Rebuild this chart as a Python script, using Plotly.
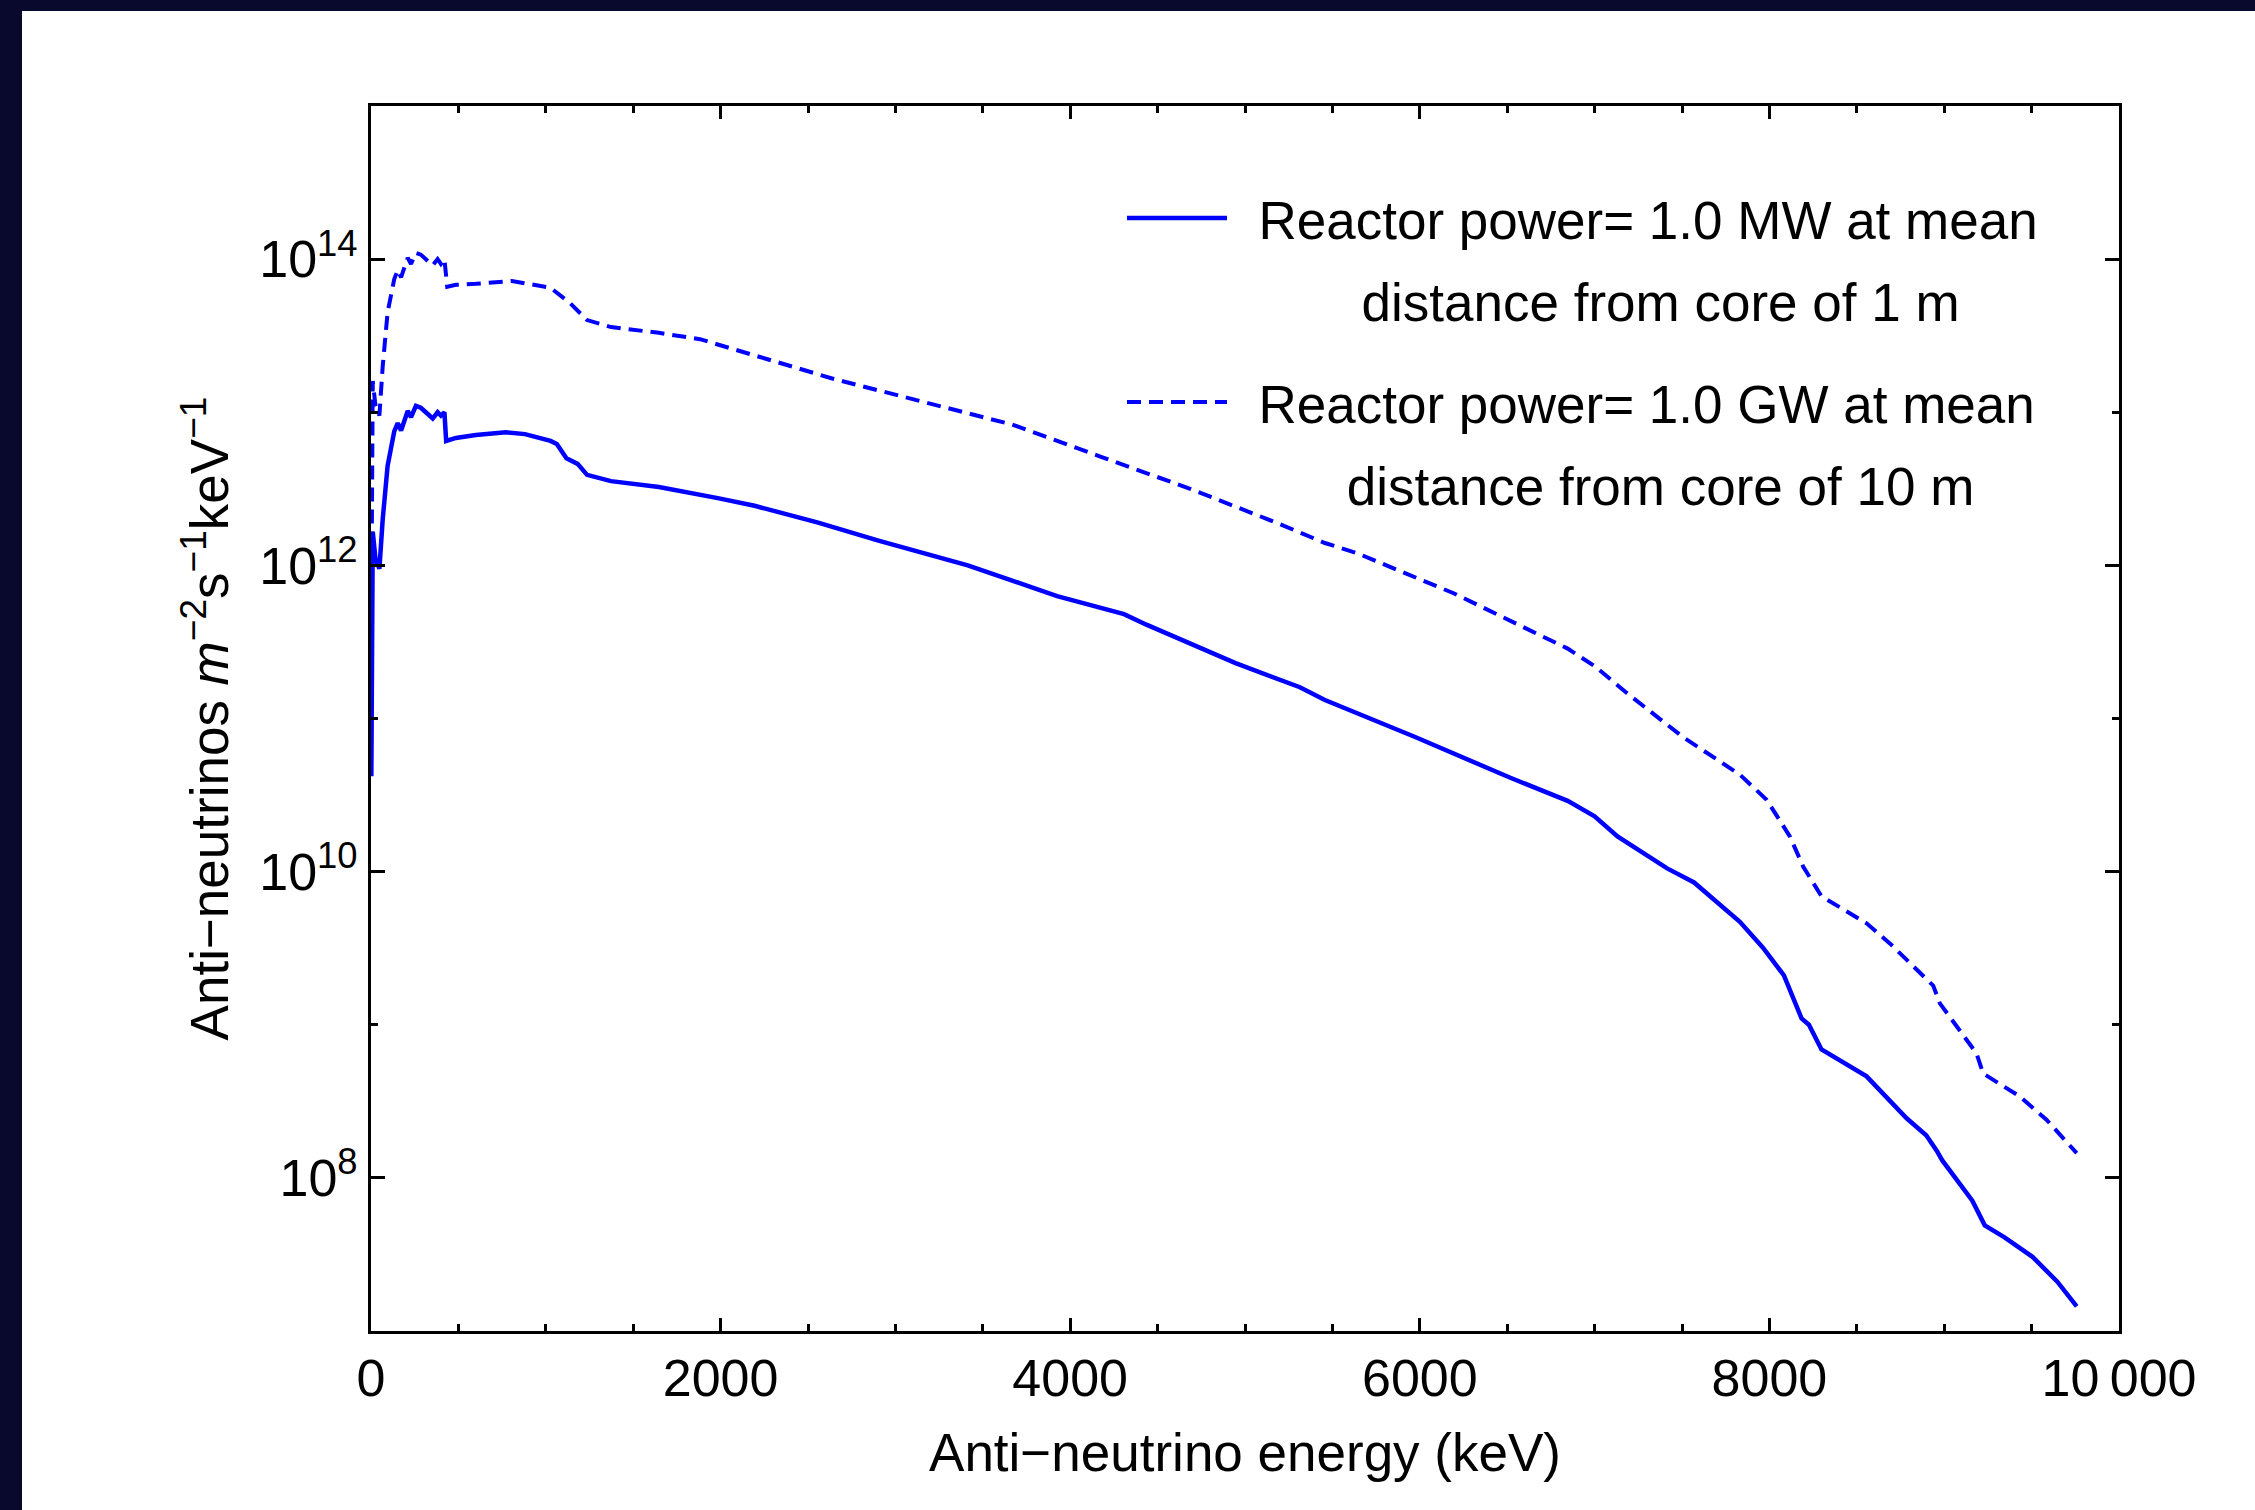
import plotly.graph_objects as go

# ---- data ----
energy_solid = [2, 10, 25, 48, 67, 95, 133, 153, 172, 190, 210, 229, 257, 285, 315, 353, 381, 400, 420,
                430, 486, 600, 771, 881, 1027, 1063, 1118, 1182, 1236, 1373, 1647, 1902, 1984, 2194,
                2393, 2558, 2903, 3414, 3925, 4308, 4436, 4946, 5314, 5457, 5970, 6518, 6846, 7000,
                7131, 7415, 7569, 7831, 7962, 8083, 8184, 8226, 8298, 8556, 8785, 8897, 8958, 8989,
                9161, 9232, 9343, 9505, 9647, 9758]
flux_1mw_1m = [4.2e10, 1.66e12, 1.12e12, 9.5e11, 2.0e12, 4.47e12, 7.5e12, 8.5e12, 7.6e12, 8.9e12, 1.02e13,
               9.3e12, 1.10e13, 1.07e13, 1.0e13, 9.1e12, 1.0e13, 9.5e12, 1.0e13,
               6.5e12, 6.8e12, 7.1e12, 7.4e12, 7.2e12, 6.5e12, 6.2e12, 5.0e12, 4.6e12, 3.9e12, 3.55e12,
               3.25e12, 2.9e12, 2.75e12, 2.45e12, 2.15e12, 1.9e12, 1.45e12, 1.0e12, 6.3e11, 4.8e11,
               4.1e11, 2.3e11, 1.6e11, 1.32e11, 7.6e10, 4.1e10, 2.9e10, 2.3e10, 1.7e10, 1.05e10, 8.5e9,
               4.7e9, 3.2e9, 2.1e9, 1.1e9, 1.0e9, 6.9e8, 4.6e8, 2.45e8, 1.9e8, 1.5e8, 1.3e8, 7.1e7,
               4.9e7, 4.1e7, 3.05e7, 2.1e7, 1.45e7]

energy_dashed = [2, 10, 25, 48, 67, 95, 133, 153, 172, 190, 210, 229, 257, 285, 315, 353, 381, 400, 420,
                 436, 486, 600, 806, 1027, 1136, 1236, 1373, 1647, 1882, 2137, 2648, 3158, 3669, 4180,
                 4690, 5200, 5457, 5642, 6190, 6846, 7000, 7174, 7503, 7831, 7984, 8117, 8193, 8298,
                 8488, 8556, 8689, 8937, 8975, 9185, 9223, 9433, 9585, 9758]
flux_1gw_10m = [5.0e11, 1.6e13, 1.12e13, 9.5e12, 2.0e13, 4.5e13, 7.4e13, 8.5e13, 7.6e13, 8.9e13, 1.02e14,
                9.3e13, 1.10e14, 1.07e14, 1.0e14, 9.1e13, 1.0e14, 9.3e13, 1.0e14,
                6.6e13, 6.8e13, 6.9e13, 7.2e13, 6.5e13, 5.2e13, 4.0e13, 3.6e13, 3.3e13, 3.0e13, 2.45e13,
                1.65e13, 1.17e13, 8.3e12, 5.1e12, 3.15e12, 1.86e12, 1.4e12, 1.2e12, 6.6e11, 2.86e11,
                2.2e11, 1.5e11, 7.6e10, 4.3e10, 2.95e10, 1.7e10, 1.08e10, 6.9e9, 5.1e9, 4.6e9, 3.4e9,
                1.8e9, 1.38e9, 6.5e8, 4.8e8, 3.4e8, 2.4e8, 1.45e8]

x_tickvals = [0, 2000, 4000, 6000, 8000, 10000]
x_ticktext = ["0", "2000", "4000", "6000", "8000", "10\u2009000"]
y_tickvals = [1e8, 1e10, 1e12, 1e14]
y_ticktext = ["10<sup>8</sup>", "10<sup>10</sup>", "10<sup>12</sup>", "10<sup>14</sup>"]
y_minorvals = [1e9, 1e11, 1e13]

name_mw_1 = "\u2002Reactor power= 1.0 MW at mean"
name_mw_2 = "\u2002" + "\u00a0" * 7 + "distance from core of 1 m"
name_gw_1 = "\u2002Reactor power= 1.0 GW at mean"
name_gw_2 = "\u2002" + "\u00a0" * 6 + "distance from core of 10 m"

BLUE = "#0000ff"
NAVY = "#09092d"
FONT = "Liberation Sans, Arial, sans-serif"

fig = go.Figure()
fig.add_trace(go.Scatter(x=energy_solid, y=flux_1mw_1m, mode="lines", name=name_mw_1,
                         line=dict(color=BLUE, width=4.5), legend="legend", legendgroup="a"))
fig.add_trace(go.Scatter(x=[None], y=[None], mode="lines", name=name_mw_2,
                         line=dict(color="rgba(0,0,0,0)", width=4), legend="legend", legendgroup="b",
                         hoverinfo="skip"))
fig.add_trace(go.Scatter(x=energy_dashed, y=flux_1gw_10m, mode="lines", name=name_gw_1,
                         line=dict(color=BLUE, width=4, dash="14px,8px"), legend="legend2",
                         legendgroup="c"))
fig.add_trace(go.Scatter(x=[None], y=[None], mode="lines", name=name_gw_2,
                         line=dict(color="rgba(0,0,0,0)", width=4), legend="legend2", legendgroup="d",
                         hoverinfo="skip"))

W, H = 2255, 1510
L, R, T, B = 371, 136, 106, 179
PW, PH = W - L - R, H - T - B


def px_x(p):
    return (p - L) / PW


def px_y(p):
    return (H - B - p) / PH


legend_common = dict(xanchor="left", yanchor="top", bgcolor="rgba(0,0,0,0)", borderwidth=0,
                     font=dict(family=FONT, size=53, color="black"), itemwidth=100,
                     traceorder="grouped", tracegroupgap=10)

fig.update_layout(
    width=W, height=H,
    margin=dict(l=L, r=R, t=T, b=B),
    paper_bgcolor="white", plot_bgcolor="white",
    font=dict(family=FONT, size=52, color="black"),
    legend=dict(x=px_x(1122), y=px_y(177), **legend_common),
    legend2=dict(x=px_x(1122), y=px_y(361), **legend_common),
    showlegend=True,
    xaxis=dict(
        range=[0, 10000], tickmode="array", tickvals=x_tickvals, ticktext=x_ticktext,
        ticks="inside", ticklen=13, tickwidth=3, tickcolor="black",
        showline=True, linewidth=3, linecolor="black", mirror="ticks",
        showgrid=False, zeroline=False,
        minor=dict(ticks="inside", tick0=0, dtick=500, ticklen=7, tickwidth=3, tickcolor="black",
                   showgrid=False),
        tickfont=dict(family=FONT, size=52, color="black"),
        title=dict(text="Anti\u2212neutrino energy (keV)", standoff=28,
                   font=dict(family=FONT, size=53, color="black")),
    ),
    yaxis=dict(
        type="log", range=[7, 15], tickmode="array", tickvals=y_tickvals, ticktext=y_ticktext,
        ticks="inside", ticklen=14, tickwidth=3, tickcolor="black",
        showline=True, linewidth=3, linecolor="black", mirror="ticks",
        showgrid=False, zeroline=False,
        minor=dict(ticks="inside", tickmode="array", tickvals=y_minorvals, ticklen=7, tickwidth=3,
                   tickcolor="black", showgrid=False),
        tickfont=dict(family=FONT, size=52, color="black"),
        title=dict(text="Anti\u2212neutrinos <i>m</i><sup>\u22122</sup>s<sup>\u22121</sup>keV<sup>\u22121</sup>",
                   standoff=14, font=dict(family=FONT, size=53, color="black")),
    ),
    shapes=[
        dict(type="rect", xref="paper", yref="paper", x0=-0.3, x1=px_x(22), y0=-0.3, y1=1.3,
             fillcolor=NAVY, line=dict(width=0), layer="below"),
        dict(type="rect", xref="paper", yref="paper", x0=-0.3, x1=1.3, y0=px_y(11), y1=1.3,
             fillcolor=NAVY, line=dict(width=0), layer="below"),
    ],
)

fig.write_html("out.html")
